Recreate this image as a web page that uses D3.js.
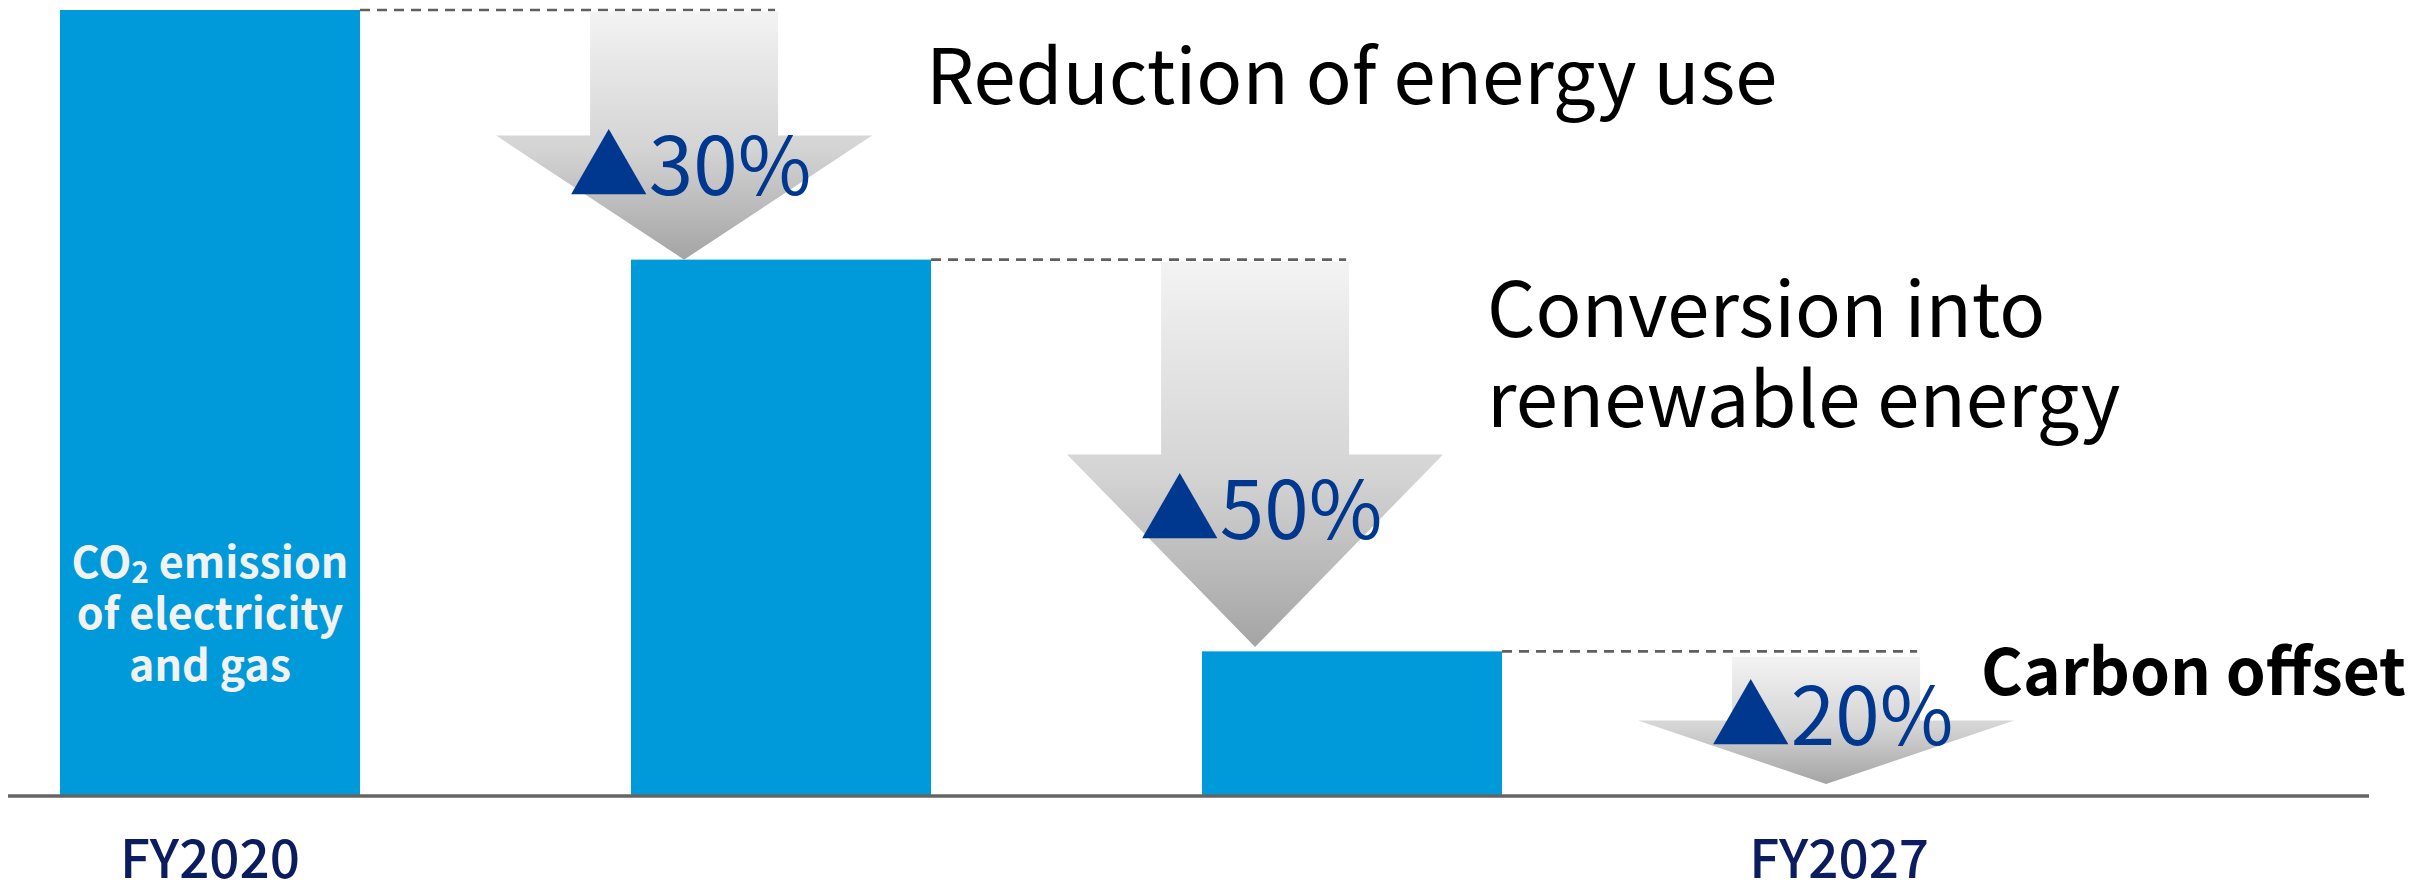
<!DOCTYPE html>
<html><head><meta charset="utf-8">
<script src="https://cdn.jsdelivr.net/npm/d3@7"></script>
<style>html,body{margin:0;padding:0;background:#fff;} svg{display:block;}</style>
</head><body>
<svg id="chart" width="2420" height="893"></svg>
<script>
// ---------- data ----------
const slots = ["FY2020", "Step 2", "Step 3", "FY2027"];
const barValues = [100, 68.2, 18.3];
const arrowFrom = [99.8, 67.9, 17.6];
const arrowTo = [68.2, 18.85, 1.4];
const reductionLabels = ["30%", "50%", "20%"];
const stepTitles = [["Reduction of energy use"], ["Conversion into", "renewable energy"], ["Carbon offset"]];
const barNoteLines = ["emission", "of electricity", "and gas"];
const tickLabels = ["FY2020", "FY2027"];

// ---------- layout / style ----------
const FONT = "'Noto Sans CJK JP','Noto Sans',sans-serif";
const BLUE = "#0099da", NAVY = "#0b1d5e", MARK = "#00388f";
const titleDx = [242, 232, 155];
const titleBaseline = [104, 337, 695];
const titleBold = [false, false, true];
const labelFrac = [0.476, 0.44, 0.38];

const svg = d3.select("#chart");
const y = d3.scaleLinear().domain([0, 100]).range([795, 10]);
const x = d3.scaleBand().domain(slots).range([60, 2073]).paddingInner(0.4746).paddingOuter(0);
const bw = x.bandwidth();

const defs = svg.append("defs");
const grad = defs.append("linearGradient").attr("id", "ag").attr("x1", 0).attr("y1", 0).attr("x2", 0).attr("y2", 1);
grad.append("stop").attr("offset", "0%").attr("stop-color", "#f3f3f3");
grad.append("stop").attr("offset", "55%").attr("stop-color", "#d4d4d4");
grad.append("stop").attr("offset", "100%").attr("stop-color", "#a4a4a4");

// bars
svg.selectAll("rect.bar").data(barValues).join("rect")
  .attr("class", "bar")
  .attr("x", (d, i) => x(slots[i]))
  .attr("y", d => y(d))
  .attr("width", bw)
  .attr("height", d => y(0) - y(d))
  .attr("fill", BLUE);

// arrows
const shaftHalf = 94, headHalf = 188;
const arrowCx = i => x(slots[i + 1]) + 0.177 * bw;
const arrows = arrowFrom.map((f, i) => {
  const top = y(f), tip = y(arrowTo[i]);
  const headTop = top + (tip - top) / 2;
  return { i, cx: arrowCx(i), top, tip, headTop };
});

// dashed guides
svg.selectAll("line.guide").data(arrows).join("line")
  .attr("class", "guide")
  .attr("x1", d => x(slots[d.i]) + bw)
  .attr("x2", d => d.cx + shaftHalf - 3)
  .attr("y1", d => y(barValues[d.i]))
  .attr("y2", d => y(barValues[d.i]))
  .attr("stroke", "#606060").attr("stroke-width", 2.6).attr("stroke-dasharray", "10,7");

svg.selectAll("path.arrow").data(arrows).join("path")
  .attr("class", "arrow")
  .attr("d", d => {
    const p = d3.path();
    p.moveTo(d.cx - shaftHalf, d.top);
    p.lineTo(d.cx + shaftHalf, d.top);
    p.lineTo(d.cx + shaftHalf, d.headTop);
    p.lineTo(d.cx + headHalf, d.headTop);
    p.lineTo(d.cx, d.tip);
    p.lineTo(d.cx - headHalf, d.headTop);
    p.lineTo(d.cx - shaftHalf, d.headTop);
    p.closePath();
    return p.toString();
  })
  .attr("fill", "url(#ag)");

// reduction labels
svg.selectAll("text.red").data(arrows).join("text")
  .attr("class", "red")
  .attr("x", d => d.cx + 6)
  .attr("y", d => d.headTop + labelFrac[d.i] * (d.tip - d.headTop))
  .attr("text-anchor", "middle")
  .attr("font-family", FONT).attr("font-size", 80)
  .attr("fill", MARK)
  .text(d => "▲" + reductionLabels[d.i]);

// baseline
svg.append("line")
  .attr("x1", 8).attr("x2", 2369)
  .attr("y1", y(0) + 1).attr("y2", y(0) + 1)
  .attr("stroke", "#646464").attr("stroke-width", 3.5);

// step titles (one text element per line)
const titleRows = [];
stepTitles.forEach((lines, i) => lines.forEach((l, j) => titleRows.push({ i, j, l })));
svg.selectAll("text.title").data(titleRows).join("text")
  .attr("class", "title")
  .attr("x", d => arrows[d.i].cx + titleDx[d.i])
  .attr("y", d => titleBaseline[d.i] + d.j * 90)
  .attr("font-family", FONT)
  .attr("font-size", d => titleBold[d.i] ? 64 : 76)
  .attr("font-weight", d => titleBold[d.i] ? "bold" : "normal")
  .attr("fill", "#000")
  .text(d => d.l);

// note inside first bar
const nx = x(slots[0]) + bw / 2;
const noteStyle = sel => sel.attr("text-anchor", "middle")
  .attr("font-family", FONT).attr("font-size", 43).attr("font-weight", "bold")
  .attr("fill", "#f2f2f2");
const l1 = svg.append("text").attr("x", nx).attr("y", 578).call(noteStyle);
l1.append("tspan").text("CO");
l1.append("tspan").attr("font-size", 30).attr("dy", 5).text("2");
l1.append("tspan").attr("dy", -5).text(" " + barNoteLines[0]);
svg.append("text").attr("x", nx).attr("y", 629).call(noteStyle).text(barNoteLines[1]);
svg.append("text").attr("x", nx).attr("y", 681).call(noteStyle).text(barNoteLines[2]);

// x tick labels
const tickX = [x(slots[0]) + bw / 2, arrows[2].cx + 13];
svg.selectAll("text.tick").data(tickLabels).join("text")
  .attr("class", "tick")
  .attr("x", (d, i) => tickX[i])
  .attr("y", 878)
  .attr("text-anchor", "middle")
  .attr("font-family", FONT).attr("font-size", 53).attr("font-weight", 500)
  .attr("fill", NAVY)
  .text(d => d);
</script>
</body></html>
